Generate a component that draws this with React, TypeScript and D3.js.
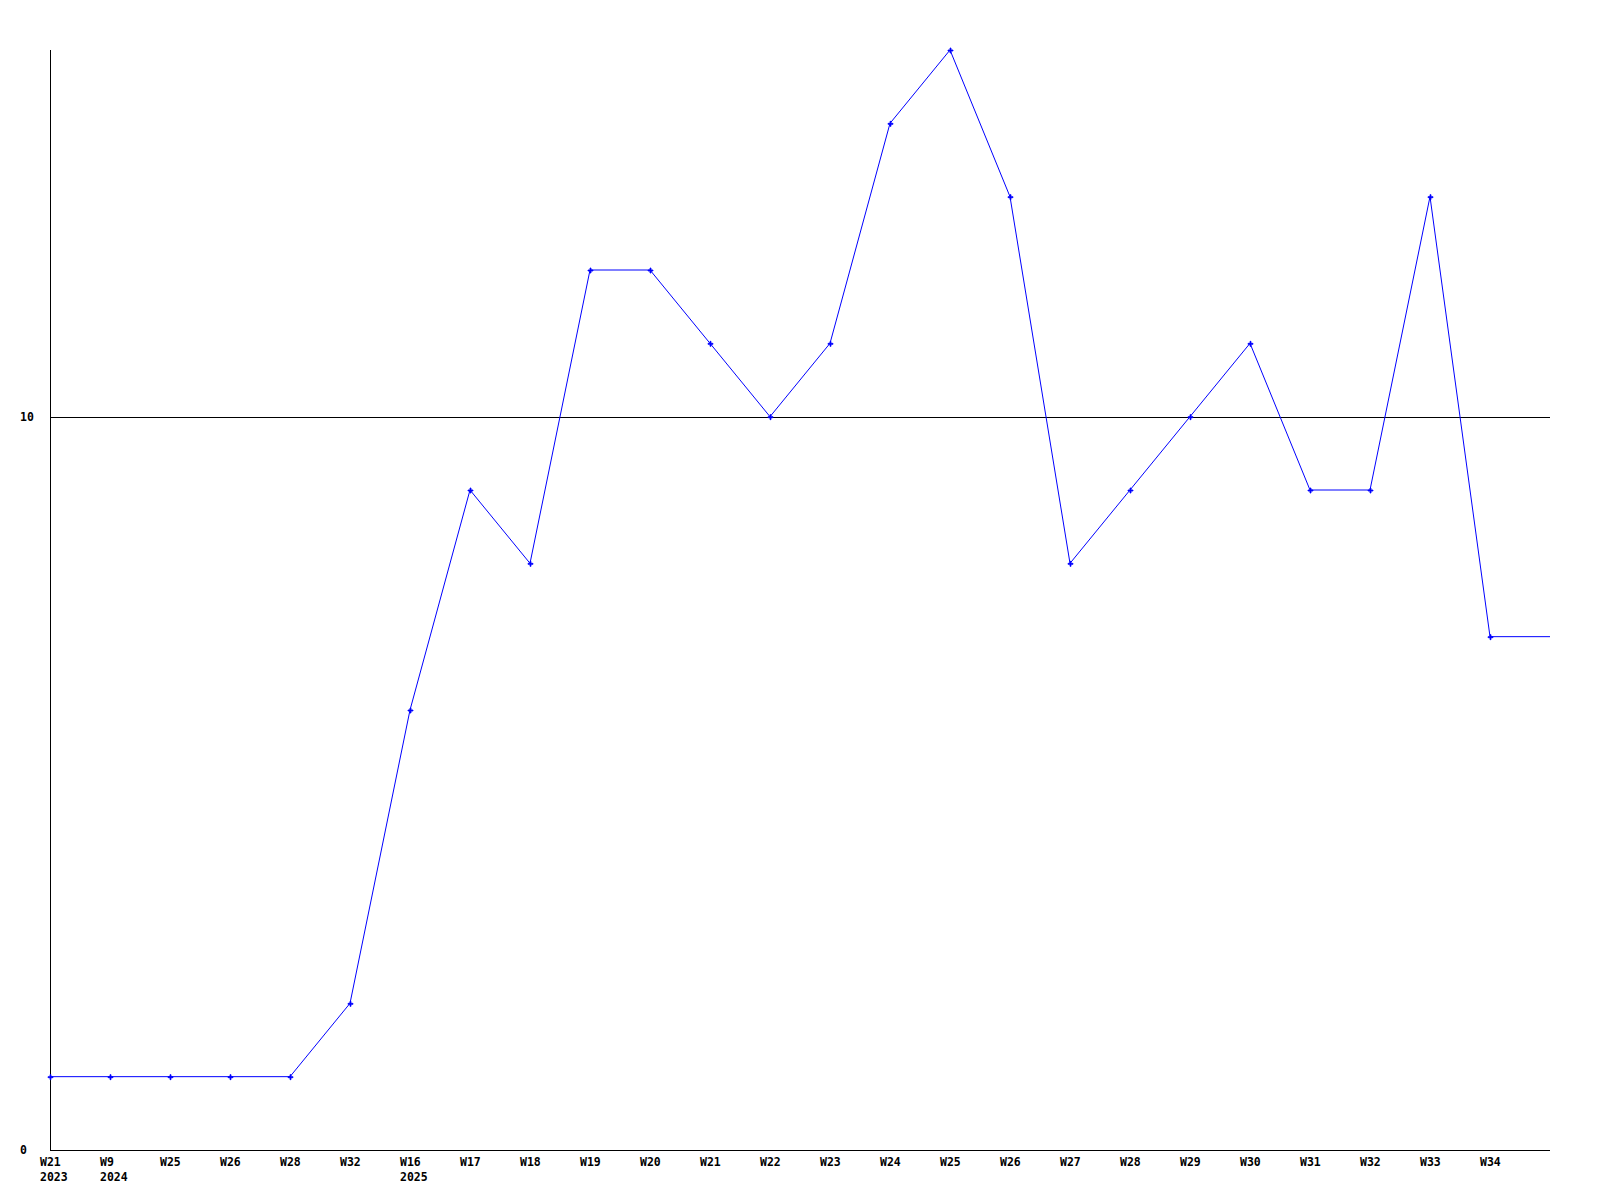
import React from "react";
import * as d3 from "d3";

const weeks = ["W21","W9","W25","W26","W28","W32","W16","W17","W18","W19","W20","W21","W22","W23","W24","W25","W26","W27","W28","W29","W30","W31","W32","W33","W34"];
const years = ["2023","2024","","","","","2025","","","","","","","","","","","","","","","","","",""];
const values = [1,1,1,1,1,2,6,9,8,12,12,11,10,11,14,15,13,8,9,10,11,9,9,13,7];
const yTicks = [0, 10];

export default function App() {
  const W = 1600, H = 1200;
  const left = 50, right = 1550, top = 50, bottom = 1150;
  const x = d3.scaleLinear().domain([0, values.length]).range([left, right]);
  const y = d3.scaleLinear().domain([0, 15]).range([bottom, top]);
  const pts: [number, number][] = values.map((v, i) => [x(i), y(v)]);
  const ext: [number, number][] = [...pts, [x(values.length), y(values[values.length - 1])]];
  const line = d3.line<[number, number]>().x(d => d[0]).y(d => d[1]);
  const font = { fontFamily: "'DejaVu Sans Mono', monospace", fontWeight: "bold" as const, fontSize: 11.5 };
  return (
    <svg width={W} height={H} style={{ position: "absolute", left: 0, top: 0, background: "#fff" }}>
      <rect x={0} y={0} width={W} height={H} fill="#fff" />
      {yTicks.filter(t => t > 0).map(t => (
        <line key={t} x1={left} x2={right} y1={Math.round(y(t)) + 0.5} y2={Math.round(y(t)) + 0.5} stroke="#000" strokeWidth={1} />
      ))}
      <line x1={left + 0.5} x2={left + 0.5} y1={top} y2={bottom} stroke="#000" strokeWidth={1} />
      <line x1={left} x2={right} y1={bottom + 0.5} y2={bottom + 0.5} stroke="#000" strokeWidth={1} />
      {yTicks.map(t => (
        <text key={t} x={20} y={Math.round(y(t)) + 4} {...font} fill="#000">{t}</text>
      ))}
      {weeks.map((w, i) => (
        <g key={i}>
          <text x={x(i) - 10} y={1166} {...font} fill="#000">{w}</text>
          {years[i] && <text x={x(i) - 10} y={1181} {...font} fill="#000">{years[i]}</text>}
        </g>
      ))}
      <path d={line(ext) || ""} fill="none" stroke="#0000ff" strokeWidth={1} />
      {pts.map((p, i) => (
        <path key={i} transform={`translate(${p[0] + 0.5},${p[1] + 0.5})`} d="M-2.5,-0.5H-0.5V-2.5H0.5V-0.5H2.5V0.5H0.5V2.5H-0.5V0.5H-2.5Z" fill="#0000ff" stroke="#0000ff" strokeWidth={0.8} />
      ))}
    </svg>
  );
}
